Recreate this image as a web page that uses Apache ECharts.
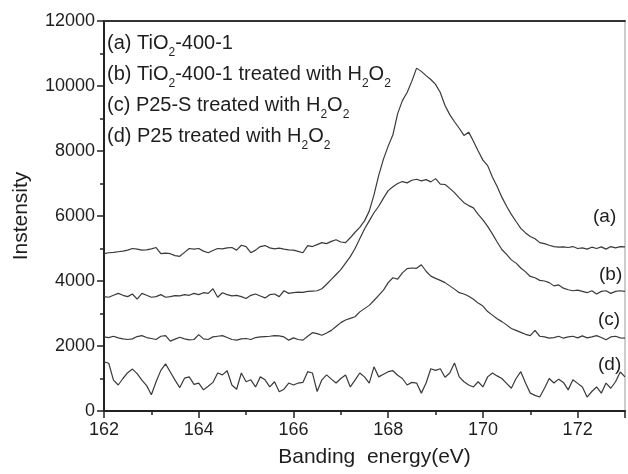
<!DOCTYPE html>
<html>
<head>
<meta charset="utf-8">
<script src="https://cdn.jsdelivr.net/npm/echarts@6/dist/echarts.min.js"></script>
<style>
  html, body { margin: 0; padding: 0; background: #fff; }
  #main { width: 628px; height: 474px; }
</style>
</head>
<body>
<div id="main"></div>
<script>
// binding energy, 162.0 .. 173.0 eV in 0.1 eV steps
var energy = [];
for (var i = 0; i <= 110; i++) energy.push(+(162 + i * 0.1).toFixed(1));

// (a) TiO2-400-1
var curveA = [
  4840, 4870, 4880, 4900, 4920, 4950, 5000, 4980, 4950, 4960,
  4990, 5030, 4840, 4860, 4840, 4780, 4760, 4880, 5000, 4980,
  5000, 4920, 4870, 4940, 5000, 4990, 5020, 5030, 4950, 5100,
  5060, 4870, 4950, 5060, 5090, 5020, 4990, 5010, 4980, 4960,
  4950, 4910, 4870, 5090, 5060, 5120, 5180, 5150, 5220, 5270,
  5200, 5180, 5330, 5500, 5650, 5850, 6150, 6650, 7250, 7750,
  8150, 8500, 9150, 9550, 9800, 10150, 10550, 10450, 10320, 10200,
  10050, 9800, 9400, 9120, 8900, 8700, 8480, 8580, 8300, 8000,
  7720, 7550, 7200, 6910, 6580, 6300, 6050, 5830, 5620, 5480,
  5370, 5300, 5180, 5150, 5100, 5060, 5040, 5050, 5030, 5060,
  5000, 5020, 4980, 5040, 5000, 5050, 4980, 5060, 5020, 5060,
  5050
];
// (b) TiO2-400-1 treated with H2O2
var curveB = [
  3520, 3500, 3560, 3620, 3560, 3520, 3600, 3440, 3620, 3560,
  3500, 3520, 3580, 3500, 3520, 3550, 3540, 3580, 3560, 3620,
  3580, 3640, 3620, 3760, 3500, 3640, 3580, 3540, 3560, 3520,
  3460, 3560, 3600, 3540, 3480, 3580, 3600, 3520, 3700, 3620,
  3640, 3660, 3650, 3680, 3690, 3700, 3760, 3900, 4050, 4200,
  4350, 4550, 4750, 5000, 5300, 5600, 5850, 6100, 6300, 6550,
  6780, 6900, 7000, 7060, 7020, 7100, 7130, 7080, 7120, 7050,
  7150, 6980, 6970, 6850, 6720, 6560, 6410, 6320, 6250, 6050,
  5880, 5680, 5450, 5200, 4970, 4820, 4650, 4550, 4400, 4280,
  4140, 4100, 4020, 4000, 3950, 3850, 3880, 3780, 3730, 3700,
  3720, 3680, 3640, 3700, 3600, 3680, 3700, 3620, 3680, 3700,
  3680
];
// (c) P25-S treated with H2O2
var curveC = [
  2280, 2260, 2300, 2250, 2220, 2200, 2220, 2290, 2320, 2260,
  2230, 2200, 2300, 2320, 2150, 2210, 2270, 2220, 2190, 2200,
  2350, 2220, 2200, 2280, 2300, 2320, 2260, 2200, 2180, 2220,
  2230, 2200, 2260, 2280, 2290, 2300, 2320, 2310, 2280, 2180,
  2250, 2200, 2180, 2300, 2410, 2380, 2330, 2400, 2480, 2600,
  2720, 2800, 2850, 2900, 3050, 3150, 3250, 3400, 3560, 3720,
  3950, 4100, 4060, 4250, 4380, 4400, 4390, 4500, 4300, 4150,
  4080, 4020, 3950, 3850, 3750, 3640, 3600, 3530, 3440, 3320,
  3230, 3060, 2950, 2840, 2750, 2650, 2540, 2480, 2420, 2360,
  2320, 2480, 2300, 2280, 2240, 2260, 2300, 2240, 2280, 2300,
  2250, 2310, 2250, 2280, 2320, 2260, 2190, 2280, 2300, 2250,
  2240
];
// (d) P25 treated with H2O2
var curveD = [
  1510, 1470, 950, 800, 1000, 1180, 1290, 1150, 950, 780,
  500, 900, 1250, 1450, 1200, 950, 720, 1010, 1050, 820,
  860, 650, 760, 880, 1170, 1110, 1240, 800, 670, 1170,
  900, 960, 740, 1050, 960, 740, 900, 590, 670, 860,
  800, 860, 880, 1210, 1170, 600, 960, 1110, 980, 860,
  1000, 1110, 740, 950, 1170, 1050, 860, 1360, 1050, 1130,
  1210, 1240, 1100, 1000, 800, 880, 860, 550, 860, 1300,
  1250, 1300, 1040, 1170, 1480, 1050, 900, 800, 740, 900,
  740, 1050, 1170, 1080, 1000, 850, 700, 1000, 1210, 860,
  550, 480, 430, 700, 1000, 860, 980, 880, 650, 960,
  850, 740, 430, 600, 740, 550, 860, 700, 900, 1200,
  1050
];

var xTicks = [162, 164, 166, 168, 170, 172];
var curveTags = ['(a)', '(b)', '(c)', '(d)'];

var myChart = echarts.init(document.getElementById('main'));

function pairs(ys) {
  return energy.map(function (x, i) { return [x, ys[i]]; });
}

var txt = '#1e1e1e';
var font = 'Liberation Sans';

var option = {
  animation: false,
  grid: { left: 104, right: 1, top: 21, bottom: 63, show: true, borderColor: '#9a9a9a', borderWidth: 1 },
  xAxis: [{
    type: 'value', min: 162, max: 173, interval: 2,
    name: 'Banding  energy(eV)', nameLocation: 'middle', nameGap: 36,
    nameTextStyle: { fontSize: 21, color: txt, fontFamily: font, padding: [0, 0, 0, 20] },
    axisLine: { show: true, lineStyle: { color: '#222', width: 2 } },
    axisTick: { show: true, length: 7, lineStyle: { color: '#222', width: 1.5 } },
    axisLabel: {
      fontSize: 18, color: txt, fontFamily: font, margin: 10,
      formatter: function (v) { return xTicks.indexOf(v) >= 0 ? String(v) : ''; }
    },
    splitLine: { show: false }
  }, {
    type: 'value', min: 162, max: 173, interval: 1, position: 'bottom',
    axisLine: { show: false }, axisLabel: { show: false }, splitLine: { show: false },
    axisTick: { show: true, length: 4, lineStyle: { color: '#222', width: 1.5 } }
  }, {
    type: 'value', min: 162, max: 173, position: 'top',
    axisLine: { show: true, lineStyle: { color: '#333', width: 2 } },
    axisTick: { show: false }, axisLabel: { show: false }, splitLine: { show: false }
  }],
  yAxis: [{
    type: 'value', min: 0, max: 12000, interval: 2000,
    name: 'Instensity', nameLocation: 'middle', nameGap: 72,
    nameTextStyle: { fontSize: 21, color: txt, fontFamily: font },
    axisLine: { show: true, lineStyle: { color: '#222', width: 2 } },
    axisTick: { show: true, length: 7, lineStyle: { color: '#222', width: 1.5 } },
    axisLabel: {
      fontSize: 18, color: txt, fontFamily: font, margin: 9,
      formatter: function (v) { return String(v); }
    },
    splitLine: { show: false }
  }, {
    type: 'value', min: 0, max: 12000, interval: 1000, position: 'left',
    axisLine: { show: false }, axisLabel: { show: false }, splitLine: { show: false },
    axisTick: { show: true, length: 4, lineStyle: { color: '#222', width: 1.5 } }
  }],
  series: [curveA, curveB, curveC, curveD].map(function (ys, k) {
    return {
      name: curveTags[k], type: 'line', data: pairs(ys),
      xAxisIndex: 0, yAxisIndex: 0,
      symbol: 'none', lineStyle: { color: '#3a3a3a', width: 1.2 }
    };
  }),
  graphic: [{
    type: 'text', left: 107, top: 33, z: 10,
    style: {
      text: '{m|(a) TiO}{s|2}{m|-400-1}\n' +
            '{m|(b) TiO}{s|2}{m|-400-1 treated with H}{s|2}{m|O}{s|2}\n' +
            '{m|(c) P25-S treated with H}{s|2}{m|O}{s|2}\n' +
            '{m|(d) P25 treated with H}{s|2}{m|O}{s|2}',
      fill: txt, font: '20px ' + font,
      rich: {
        m: { fontSize: 20, lineHeight: 31, fontFamily: font, fill: txt },
        s: { fontSize: 12, lineHeight: 15, verticalAlign: 'bottom', fontFamily: font, fill: txt }
      }
    }
  },
  { type: 'text', left: 593, top: 207, style: { text: curveTags[0], font: '19px ' + font, fill: txt } },
  { type: 'text', left: 599, top: 265, style: { text: curveTags[1], font: '19px ' + font, fill: txt } },
  { type: 'text', left: 598, top: 310, style: { text: curveTags[2], font: '19px ' + font, fill: txt } },
  { type: 'text', left: 598, top: 355, style: { text: curveTags[3], font: '19px ' + font, fill: txt } }]
};

myChart.setOption(option);
</script>
</body>
</html>
